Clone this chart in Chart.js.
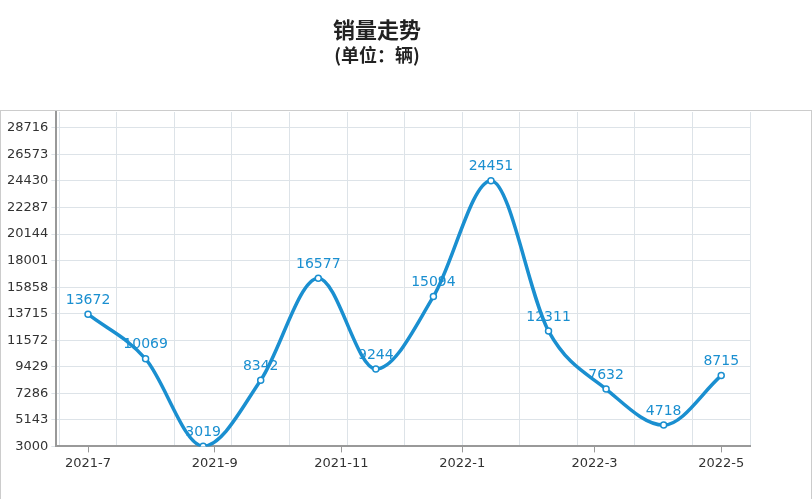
<!DOCTYPE html>
<html><head><meta charset="utf-8">
<script src="https://cdn.jsdelivr.net/npm/chart.js@4"></script>
<style>body{margin:0;background:#fff}#w{width:812px;height:500px;position:relative}
#bx{position:absolute;left:0;top:110px;width:810px;height:388px;border:1px solid #ccc;border-bottom:none}</style>
</head><body><div id="w"><div id="bx"></div><canvas id="c" width="812" height="500"></canvas></div>
<script>
const months=['2021-7','2021-8','2021-9','2021-10','2021-11','2021-12','2022-1','2022-2','2022-3','2022-4','2022-5','2022-6'];
const sales=[13672,10069,3019,8342,16577,9244,15094,24451,12311,7632,4718,8715];
const tickLabels=['2021-7','2021-9','2021-11','2022-1','2022-3','2022-5'];
const tickPos=[0,2.2,4.4,6.5,8.8,11];
const yTicks=[3000,5143,7286,9429,11572,13715,15858,18001,20144,22287,24430,26573,28716];
const col='#1a8fd0';
const lbl={id:'lbl',afterDatasetsDraw(ch){const c=ch.ctx;const m=ch.getDatasetMeta(0);c.save();c.fillStyle=col;c.font='14px Verdana, DejaVu Sans';c.textAlign='center';c.textBaseline='bottom';
m.data.forEach((p,i)=>c.fillText(String(sales[i]),p.x,p.y-7));c.restore();}};
new Chart(document.getElementById('c'),{type:'line',
data:{datasets:[{data:sales.map((v,i)=>({x:i,y:v})),borderColor:col,borderWidth:3.5,tension:0.4,cubicInterpolationMode:'monotone',pointRadius:3,pointBackgroundColor:'#fff',pointBorderColor:col,pointBorderWidth:1.5}]},
options:{responsive:false,animation:false,layout:{padding:{top:0,right:62,left:4,bottom:26}},
plugins:{legend:{display:false},tooltip:{enabled:false},
title:{display:true,text:'销量走势',font:{size:22,weight:'bold',family:'Noto Sans CJK SC'},color:'#222',padding:{top:16,bottom:2}},
subtitle:{display:true,text:'(单位：辆)',font:{size:18,weight:'bold',family:'Noto Sans CJK SC'},color:'#222',padding:{bottom:46}}},
scales:{
x:{type:'linear',min:-0.55,max:11.5,afterBuildTicks(a){a.ticks=tickPos.map(v=>({value:v}));},
ticks:{callback:(v,i)=>tickLabels[i],color:'#333',font:{size:13,family:'Verdana, DejaVu Sans'},maxRotation:0},
grid:{drawOnChartArea:false,drawTicks:true,tickLength:6,color:'#999'},border:{color:'#999',width:2}},
x2:{type:'linear',min:-0.55,max:11.5,display:true,position:'bottom',afterBuildTicks(a){a.ticks=[];for(let k=-0.5;k<=11.5;k++)a.ticks.push({value:k});},
ticks:{display:false},grid:{color:'#dde3e8',drawTicks:false},border:{display:false}},
y:{min:3000,max:30000,afterBuildTicks(a){a.ticks=yTicks.map(v=>({value:v}));},
ticks:{callback:v=>String(v),color:'#333',font:{size:13,family:'Verdana, DejaVu Sans'},padding:3},
grid:{color:'#dde3e8',tickLength:5},border:{color:'#999',width:2}}}},
plugins:[lbl]});
</script></body></html>
